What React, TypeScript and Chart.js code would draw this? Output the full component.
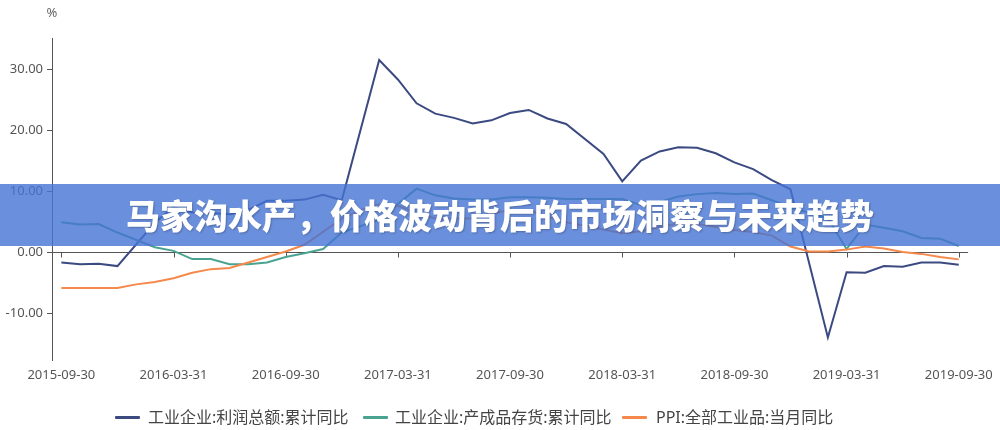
import React, { useEffect, useRef } from "react";
import { Chart, registerables } from "chart.js";

Chart.register(...registerables);

const categories = [
  "2015-09-30", "2015-10-31", "2015-11-30", "2015-12-31",
  "2016-01-31", "2016-02-29", "2016-03-31", "2016-04-30", "2016-05-31", "2016-06-30",
  "2016-07-31", "2016-08-31", "2016-09-30", "2016-10-31", "2016-11-30", "2016-12-31",
  "2017-01-31", "2017-02-28", "2017-03-31", "2017-04-30", "2017-05-31", "2017-06-30",
  "2017-07-31", "2017-08-31", "2017-09-30", "2017-10-31", "2017-11-30", "2017-12-31",
  "2018-01-31", "2018-02-28", "2018-03-31", "2018-04-30", "2018-05-31", "2018-06-30",
  "2018-07-31", "2018-08-31", "2018-09-30", "2018-10-31", "2018-11-30", "2018-12-31",
  "2019-01-31", "2019-02-28", "2019-03-31", "2019-04-30", "2019-05-31", "2019-06-30",
  "2019-07-31", "2019-08-31", "2019-09-30",
];

const xTickLabels = [
  "2015-09-30", "2016-03-31", "2016-09-30", "2017-03-31", "2017-09-30",
  "2018-03-31", "2018-09-30", "2019-03-31", "2019-09-30",
];

const yTicks = [-10, 0, 10, 20, 30];

const profitYoY = [
  -1.7, -2.0, -1.9, -2.3,
  null, 4.8, 7.4, 6.5, 6.4, 6.2, 6.9, 8.4, 8.4, 8.6, 9.4, 8.5,
  null, 31.5, 28.3, 24.4, 22.7, 22.0, 21.1, 21.6, 22.8, 23.3, 21.9, 21.0,
  null, 16.1, 11.6, 15.0, 16.5, 17.2, 17.1, 16.2, 14.7, 13.6, 11.8, 10.3,
  null, -14.0, -3.3, -3.4, -2.3, -2.4, -1.7, -1.7, -2.1,
];

const inventoryYoY = [
  4.9, 4.5, 4.6, 3.2,
  null, 0.8, 0.2, -1.15, -1.15, -2.0, -2.0, -1.7, -0.8, -0.2, 0.5, 3.2,
  null, 5.3, 7.9, 10.4, 9.3, 8.8, 8.6, 8.6, 9.0, 9.0, 8.9, 8.7,
  null, 8.7, 8.7, 7.7, 8.2, 9.1, 9.5, 9.7, 9.5, 9.6, 8.5, 7.4,
  null, 5.5, 0.5, 4.5, 4.0, 3.4, 2.3, 2.2, 1.0,
];

const ppiYoY = [
  -5.9, -5.9, -5.9, -5.9,
  -5.3, -4.9, -4.3, -3.4, -2.8, -2.6, -1.7, -0.8, 0.1, 1.2, 3.3, 5.5,
  6.9, 7.8, 7.6, 6.4, 5.5, 5.5, 5.5, 6.3, 6.9, 6.9, 5.8, 4.9,
  4.3, 3.7, 3.1, 3.4, 4.1, 4.7, 4.6, 4.1, 3.6, 3.3, 2.7, 0.9,
  0.1, 0.1, 0.4, 0.9, 0.6, 0.0, -0.3, -0.8, -1.2,
];

const seriesNames = ["工业企业:利润总额:累计同比", "工业企业:产成品存货:累计同比", "PPI:全部工业品:当月同比"];
const seriesColors = ["#3c4a82", "#4aa391", "#f5894b"];

const title = "马家沟水产，价格波动背后的市场洞察与未来趋势";

const FONT = "'Microsoft YaHei', 'Noto Sans', 'Noto Sans CJK SC', sans-serif";

const zeroAxisPlugin = {
  id: "zeroAxis",
  beforeDatasetsDraw(chart: any) {
    const { ctx, chartArea, scales } = chart;
    const y0 = scales.y.getPixelForValue(0);
    ctx.save();
    ctx.strokeStyle = "#555";
    ctx.lineWidth = 1;
    ctx.beginPath();
    ctx.moveTo(chartArea.left, Math.round(y0) + 0.5);
    ctx.lineTo(chartArea.right, Math.round(y0) + 0.5);
    categories.forEach((c, i) => {
      if (xTickLabels.includes(c)) {
        const x = Math.round(scales.x.getPixelForValue(i)) + 0.5;
        ctx.moveTo(x, Math.round(y0) + 0.5);
        ctx.lineTo(x, Math.round(y0) + 5.5);
      }
    });
    ctx.stroke();
    ctx.restore();
  },
};

export default function App() {
  const ref = useRef<HTMLCanvasElement | null>(null);

  useEffect(() => {
    if (!ref.current) return;
    const datasets = [profitYoY, inventoryYoY, ppiYoY].map((d, i) => ({
      label: seriesNames[i],
      data: d,
      borderColor: seriesColors[i],
      backgroundColor: seriesColors[i],
      borderWidth: 2,
      pointRadius: 0,
      tension: 0,
      spanGaps: true,
      order: 3 - i,
    }));
    const chart = new Chart(ref.current, {
      type: "line",
      data: { labels: categories, datasets },
      plugins: [zeroAxisPlugin],
      options: {
        animation: false,
        responsive: false,
        devicePixelRatio: 1,
        layout: { autoPadding: false, padding: { left: 0, right: 31, top: 38, bottom: 40 } },
        plugins: { legend: { display: false }, tooltip: { enabled: false } },
        scales: {
          x: {
            type: "category",
            offset: true,
            grid: { display: false, drawTicks: false },
            border: { display: false },
            ticks: {
              autoSkip: false,
              maxRotation: 0,
              minRotation: 0,
              padding: 7,
              color: "#555",
              font: { family: FONT, size: 13 },
              callback: (v: any, i: number) => (xTickLabels.includes(categories[i]) ? categories[i] : ""),
            },
            afterFit: (s: any) => {
              s.height = 30;
            },
          },
          y: {
            min: -17.7,
            max: 35.1,
            grid: { display: true, drawOnChartArea: false, drawTicks: true, tickLength: 5, color: "#555" },
            border: { display: true, color: "#555", width: 1 },
            afterBuildTicks: (s: any) => {
              s.ticks = yTicks.map((v) => ({ value: v }));
            },
            ticks: {
              padding: 4,
              color: "#555",
              font: { family: FONT, size: 13 },
              callback: (v: any) => Number(v).toFixed(2),
            },
            afterFit: (s: any) => {
              s.width = 52;
            },
          },
        },
      },
    });
    return () => chart.destroy();
  }, []);

  const legendPos = [
    { icon: 115, text: 148 },
    { icon: 363, text: 395 },
    { icon: 622, text: 656 },
  ];

  return (
    <div style={{ position: "fixed", left: 0, top: 0, width: 1000, height: 430, background: "#fff", overflow: "hidden" }}>
      <canvas ref={ref} width={1000} height={430} style={{ position: "absolute", left: 0, top: 0, width: 1000, height: 430 }} />
      <div style={{ position: "absolute", left: 52, top: 4, transform: "translateX(-50%)", font: `13px ${FONT}`, color: "#666", lineHeight: "16px" }}>%</div>
      <div
        style={{
          position: "absolute", left: 0, top: 184, width: 1000, height: 62,
          background: "rgba(69,115,211,0.8)", display: "flex", alignItems: "center", justifyContent: "center",
        }}
      >
        <span style={{ color: "#fff", fontFamily: "'Noto Sans CJK SC', sans-serif", fontWeight: 900, fontSize: 34, lineHeight: "40px", textShadow: "1px 1px 2px rgba(0,0,0,0.25)", whiteSpace: "nowrap" }}>
          {title}
        </span>
      </div>
      {seriesNames.map((n, i) => (
        <React.Fragment key={n}>
          <div style={{ position: "absolute", left: legendPos[i].icon, top: 416, width: 25, height: 3, background: seriesColors[i], borderRadius: 1 }} />
          <div style={{ position: "absolute", left: legendPos[i].text, top: 407, font: `16px ${FONT}`, lineHeight: "20px", color: "#444", whiteSpace: "nowrap" }}>{n}</div>
        </React.Fragment>
      ))}
    </div>
  );
}
